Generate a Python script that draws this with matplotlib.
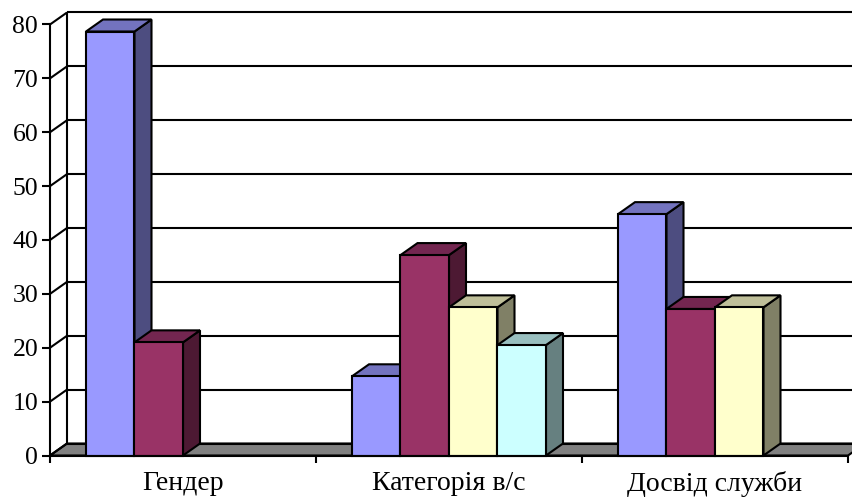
import matplotlib
matplotlib.use("Agg")
import matplotlib.pyplot as plt
from matplotlib.patches import Polygon

plt.rcParams['font.family'] = ['Liberation Serif', 'DejaVu Serif']

categories = ['Гендер', 'Категорія в/с', 'Досвід служби']
# None = no bar for that category
series_1 = [78.7, 14.7, 44.8]
series_2 = [21.0, 37.2, 27.2]
series_3 = [None, 27.5, 27.5]
series_4 = [None, 20.5, None]
y_ticks = [0, 10, 20, 30, 40, 50, 60, 70, 80]

# front, top, side
colors_1 = ('#9999FF', '#7373BF', '#4D4D80')
colors_2 = ('#993366', '#732650', '#4D1933')
colors_3 = ('#FFFFCC', '#BFBF99', '#808066')
colors_4 = ('#CCFFFF', '#99BFBF', '#668080')

W, H = 853, 497
fig = plt.figure(figsize=(W / 100, H / 100), dpi=100)
# axes box in pixels: x 50..848, y 455.5..24.5 from the top
ax = fig.add_axes([50 / W, (H - 455.5) / H, 798 / W, 431 / H])
ax.set_xlim(0, 3)
ax.set_ylim(0, 80)

# depth of the fake 3d in data units (17px right, 12px up)
dx = 17 / 266
dy = 12 / (431 / 80)
lw = 1.5
bar_w = 48.5 / 266
gap = 36 / 266


def poly(pts, color, z):
    ax.add_patch(Polygon(pts, closed=True, facecolor=color, edgecolor='black',
                         linewidth=lw, joinstyle='miter', clip_on=False, zorder=z))


def line(xs, ys, z=2):
    ax.plot(xs, ys, color='black', linewidth=lw, clip_on=False, zorder=z,
            solid_capstyle='butt')


# floor
poly([(0, 0), (dx, dy), (3 + dx, dy), (3, 0)], '#808080', 1)

# back wall: gridlines, side wall diagonals
for t in y_ticks:
    line([dx, 3.1], [t + dy, t + dy])
    line([0, dx], [t, t + dy])
line([dx, dx], [dy, 80 + dy])

z = 3
all_series = [(series_1, colors_1), (series_2, colors_2),
              (series_3, colors_3), (series_4, colors_4)]
for c in range(len(categories)):
    for s, (values, cols) in enumerate(all_series):
        v = values[c]
        if v is None:
            continue
        x0 = c + gap + s * bar_w
        x1 = x0 + bar_w
        poly([(x1, 0), (x1 + dx, dy), (x1 + dx, v + dy), (x1, v)], cols[2], z)
        poly([(x0, v), (x0 + dx, v + dy), (x1 + dx, v + dy), (x1, v)], cols[1], z)
        poly([(x0, 0), (x0, v), (x1, v), (x1, 0)], cols[0], z)
        z += 1

for side in ['top', 'right']:
    ax.spines[side].set_visible(False)
for side in ['left', 'bottom']:
    ax.spines[side].set_linewidth(lw)
    ax.spines[side].set_zorder(20)

ax.set_yticks(y_ticks)
ax.set_xticks([0, 1, 2, 3])
ax.set_xticklabels([])
ax.set_xticks([0.5, 1.5, 2.5], categories, minor=True)
ax.tick_params(axis='y', length=5.5, width=lw, labelsize=18.5, pad=3)
ax.tick_params(axis='x', which='major', length=5, width=lw)
# labels sit a little higher than the reference so the descenders stay inside the picture
ax.tick_params(axis='x', which='minor', length=0, labelsize=20, pad=11)

fig.savefig('out.png', dpi=100)
